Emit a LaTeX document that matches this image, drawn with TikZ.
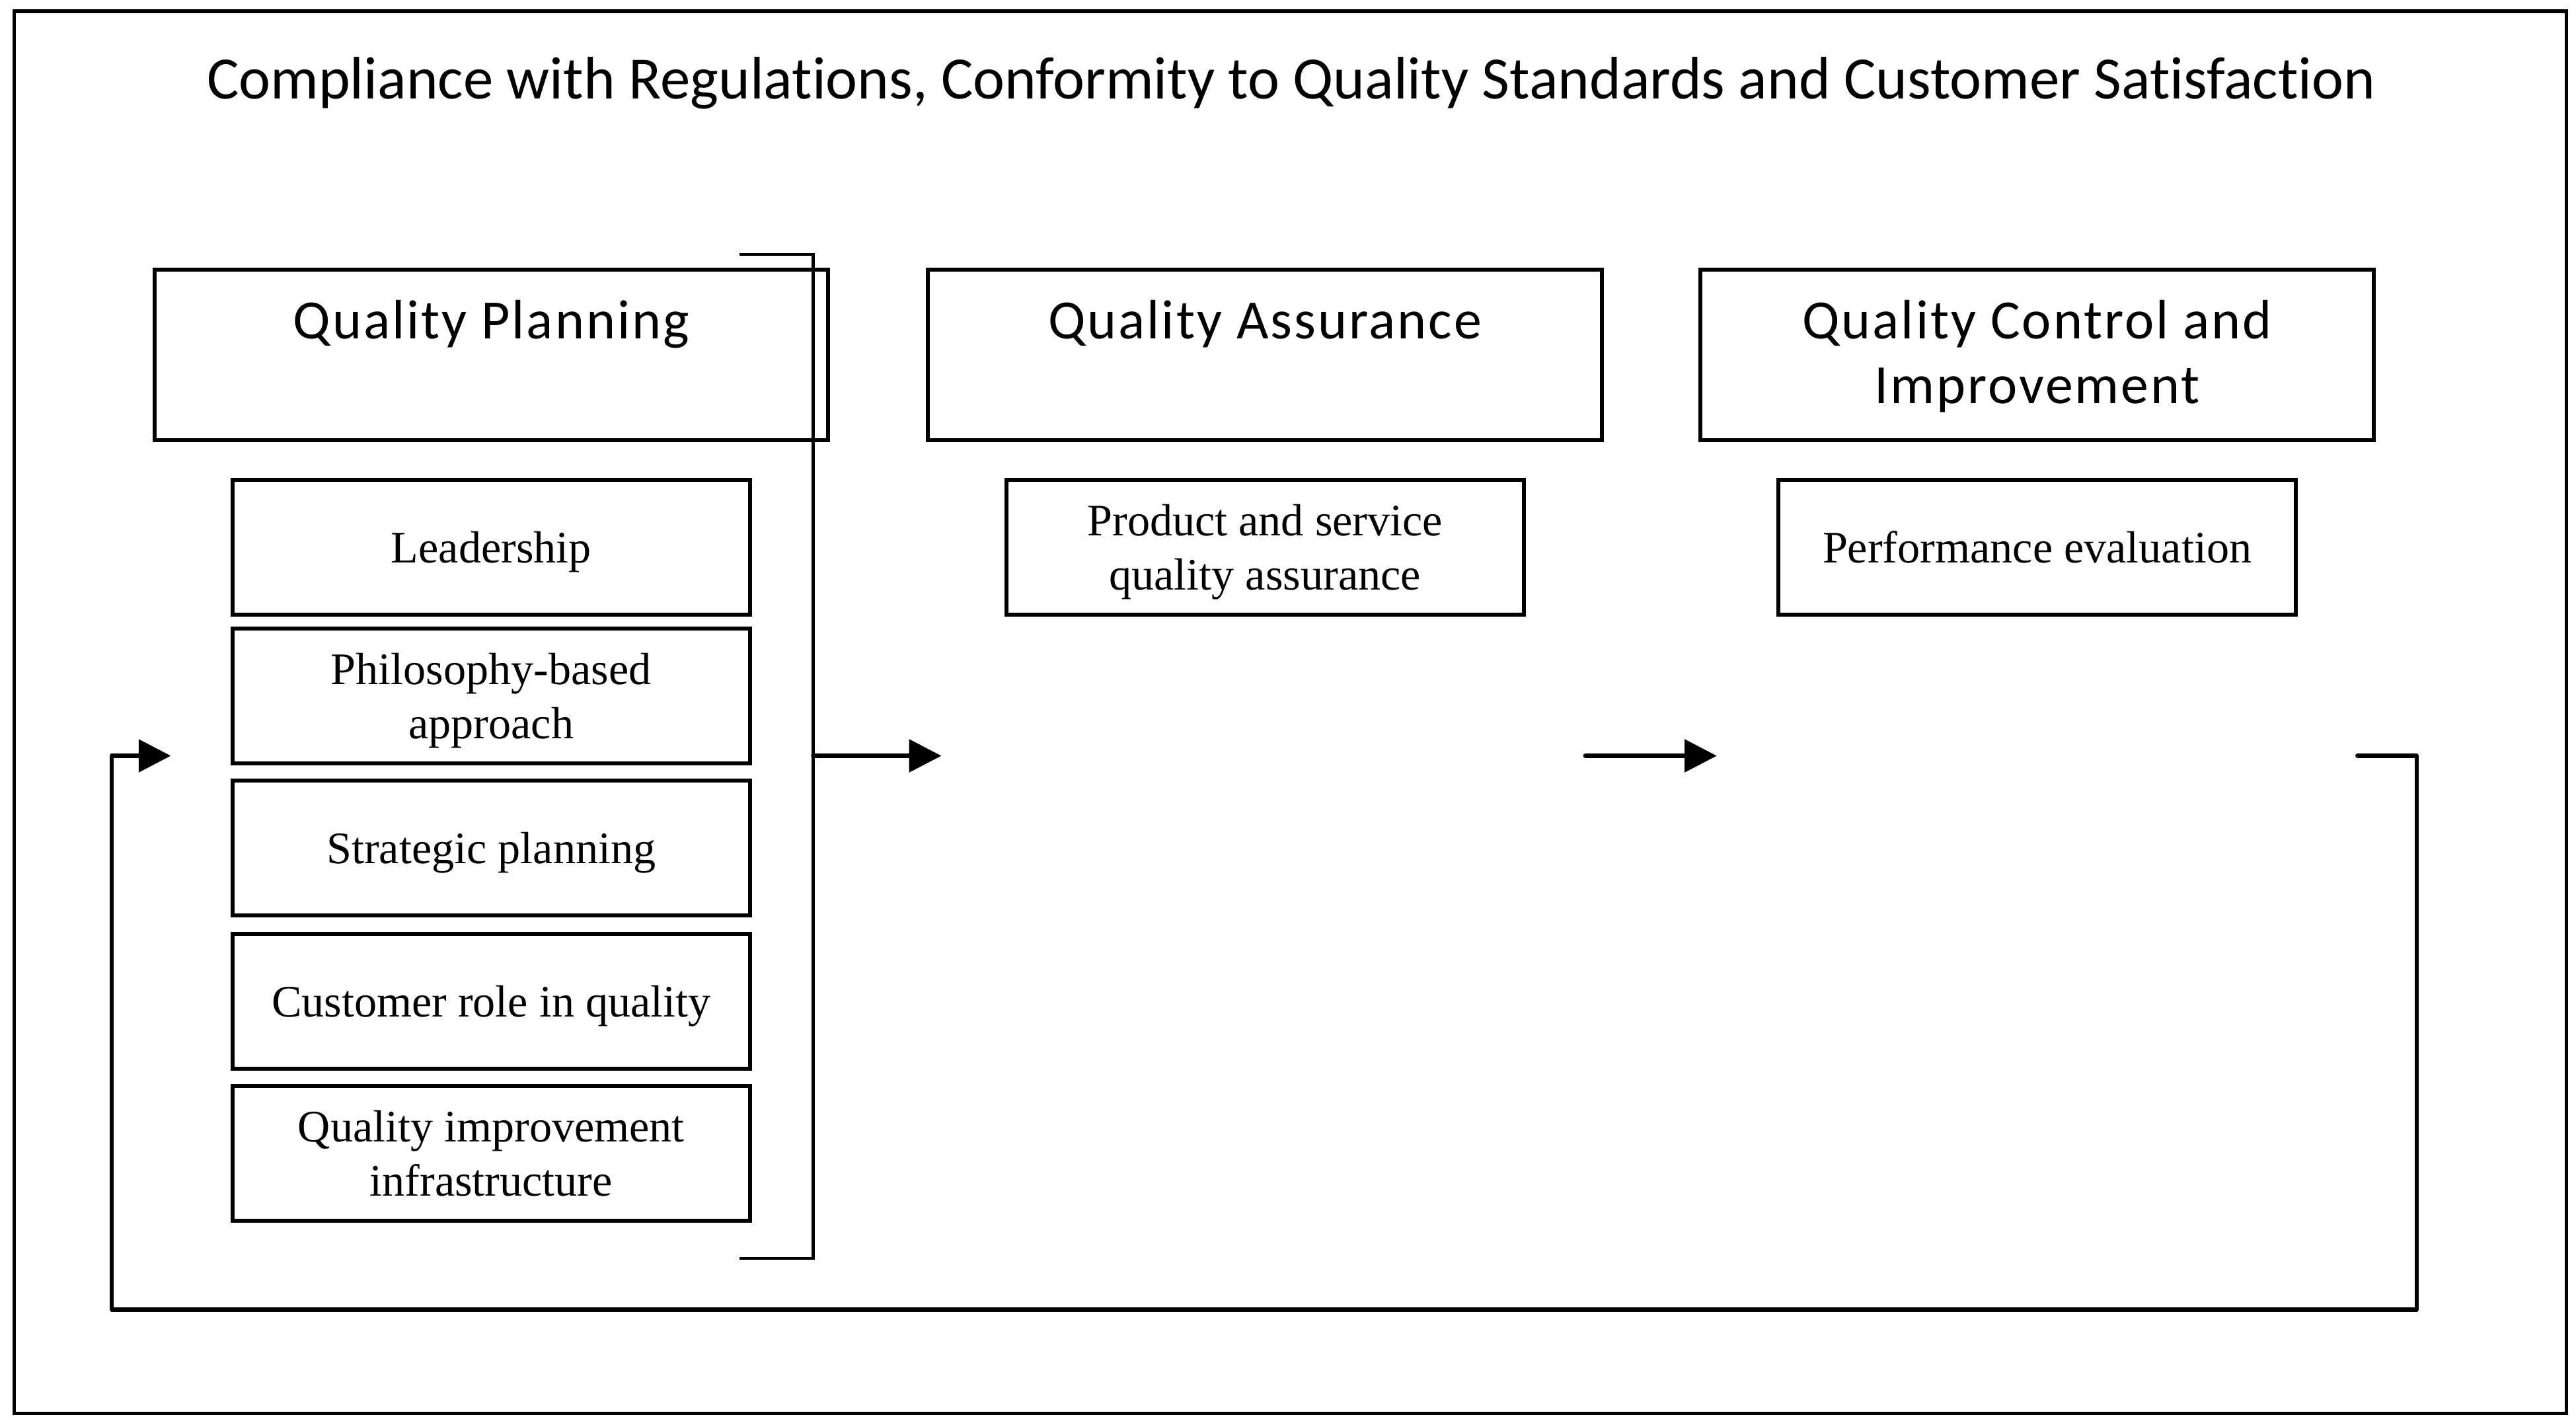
\documentclass[tikz,border=0pt]{standalone}
\usepackage{fontspec}
\setmainfont{Liberation Serif}
\newfontfamily\hdfont[LetterSpace=3.5,Ligatures=NoCommon]{Carlito}
\newfontfamily\ttlfont[Ligatures=NoCommon]{Carlito}
\usetikzlibrary{arrows.meta}
\begin{document}
\begin{tikzpicture}[x=0.025cm,y=-0.025cm,
  framebox/.style={draw,line width=1.5pt,minimum width=38.825cm,minimum height=21.325cm,inner sep=0pt},
  hdbox/.style={draw,line width=1.7pt,minimum width=10.25cm,minimum height=2.6cm,inner sep=0pt},
  subbox/.style={draw,line width=1.7pt,minimum width=7.875cm,minimum height=2.05cm,inner sep=0pt,align=center,text depth=0pt,font=\fontsize{19.5}{23.4}\selectfont},
  hdtext/.style={anchor=base,align=center,inner sep=0pt,font=\hdfont\fontsize{24}{28.2}\selectfont},
  conn/.style={line width=1.9pt,line cap=round,line join=round},
  arr/.style={conn,-{Triangle[length=0.49cm,width=0.49cm]}},
  brk/.style={line width=1.2pt}]
\useasboundingbox (0,0) rectangle (1568,866);
\node[framebox] (frame) at (785.5,433.5) {};
\node[anchor=base,inner sep=0pt,font=\ttlfont\fontsize{26}{31}\selectfont] (title) at (786,60) {Compliance with Regulations, Conformity to Quality Standards and Customer Satisfaction};
% header boxes
\node[hdbox] (qp) at (299,216) {};
\node[hdbox] (qa) at (770,216) {};
\node[hdbox] (qc) at (1240,216) {};
\node[hdtext] (qpt) at (299,206) {Quality Planning};
\node[hdtext] (qat) at (770,206) {Quality Assurance};
\node[hdtext] (qct) at (1240,245.7) {Quality Control and\\Improvement};
% sub boxes
\node[subbox] (lead) at (299,333) {Leadership};
\node[subbox] (phil) at (299,423.5) {Philosophy-based\\approach};
\node[subbox] (strat) at (299,516) {Strategic planning};
\node[subbox] (cust) at (299,609.5) {Customer role in quality};
\node[subbox] (qii) at (299,702) {Quality improvement\\infrastructure};
\node[subbox] (qas) at (770,333) {Product and service\\quality assurance};
\node[subbox] (qcs) at (1240,333) {Performance evaluation};
% bracket
\coordinate (brtop) at (450,155);
\coordinate (brbot) at (450,766);
\draw[brk] (brtop) -- ++(45,0) |- (brbot);
% arrows
\coordinate (a1s) at (495,460);
\coordinate (a1e) at (573,460);
\coordinate (a2s) at (965,460);
\coordinate (a2e) at (1045,460);
\draw[arr] (a1s) -- (a1e);
\draw[arr] (a2s) -- (a2e);
% feedback loop
\coordinate (ls) at (1435,460);
\coordinate (lbr) at (1471,797);
\coordinate (lbl) at (68,797);
\coordinate (le) at (104,460);
\draw[arr] (ls) -| (lbr) -- (lbl) |- (le);
\end{tikzpicture}
\end{document}
